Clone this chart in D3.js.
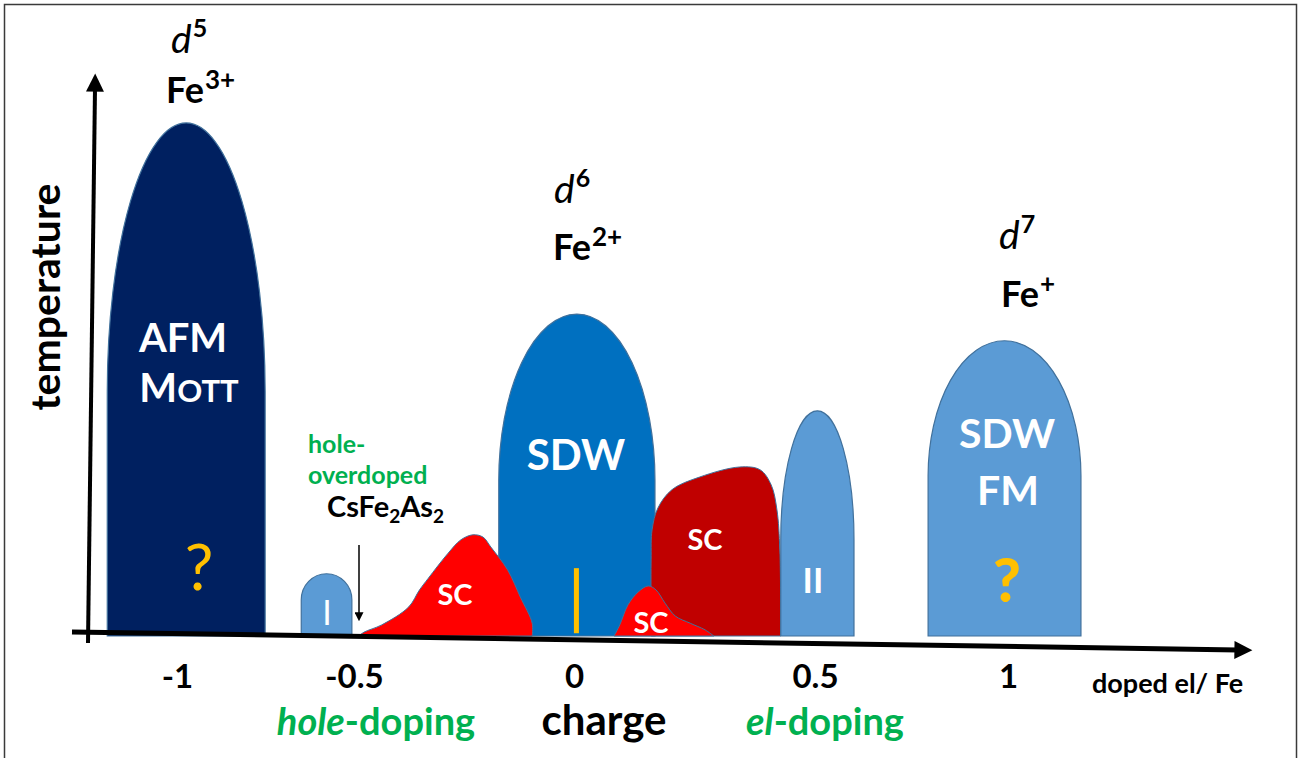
<!DOCTYPE html>
<html><head><meta charset="utf-8">
<script src="https://cdn.jsdelivr.net/npm/d3@7"></script>
<style>
html,body{margin:0;padding:0;background:#fff;}
svg{display:block;font-family:Lato,"Open Sans",sans-serif;}
</style></head>
<body><svg id="c" width="1301" height="758"></svg>
<script>
// ---- data ----
const xTicks = [-1, -0.5, 0, 0.5, 1];
const xTickLabels = ["-1", "-0.5", "0", "0.5", "1"];
// dome-shaped phases: doping range, shoulder temperature, peak temperature
const domeNames    = ["AFM", "I", "SDW", "II", "SDW FM"];
const domeLeft     = [-1.197, -0.649, -0.171, 0.429, 0.793];
const domeRight    = [-0.751, -0.506,  0.168, 0.601, 1.189];
const domeShoulder = [44, 6.5, 28, 17.3, 28.8];
const domePeak     = [92.3, 11.2, 57.9, 40.5, 53.1];
const domeColor    = ["#002060", "#5B9BD5", "#0070C0", "#5B9BD5", "#5B9BD5"];
// superconducting regions: boundary (doping, temperature)
const scHoleDoping = [-0.489,-0.477,-0.437,-0.376,-0.351,-0.331,-0.286,-0.257,-0.230,-0.207,-0.189,-0.151,-0.122,-0.095,-0.095];
const scHoleT      = [0, 0.7, 2.0, 5.2, 8.3, 10.4, 14.9, 17.3, 18.2, 17.8, 16.0, 11.9, 7.0, 2.3, 0];
const scElDoping   = [0.160,0.160,0.162,0.174,0.203,0.261,0.344,0.386,0.409,0.421,0.427,0.429];
const scElT        = [0, 13.7, 19.1, 23.0, 26.3, 28.6, 30.4, 29.9, 27.2, 22.7, 15.5, 0];
const scSmallDoping= [0.083,0.095,0.112,0.133,0.154,0.170,0.189,0.210,0.241,0.272,0.290];
const scSmallT     = [0, 2.0, 5.6, 7.9, 9.0, 8.3, 5.9, 3.6, 2.3, 1.1, 0];
const parentDoping = 0.005; const parentT = [0.5, 12.2];

// ---- scales ----
const svg = d3.select("#c");
const x = d3.scaleLinear().domain([-1, -0.5, 0, 0.5, 1]).range([177, 354, 574, 815, 1008]);
const y = d3.scaleLinear().domain([0, 100]).range([636, 80]);

// frame
svg.append("rect").attr("x", 4.5).attr("y", 4.5).attr("width", 1292).attr("height", 770)
  .attr("fill", "none").attr("stroke", "#3a3a3a").attr("stroke-width", 1.5);

const g = svg.append("g");
const stroke = "#41719C";

function domePath(i) {
  const xl = x(domeLeft[i]), xr = x(domeRight[i]), yb = y(0), ys = y(domeShoulder[i]), yp = y(domePeak[i]);
  const rx = (xr - xl) / 2, ry = ys - yp;
  return `M${xl},${yb}L${xl},${ys}A${rx},${ry} 0 0 1 ${xr},${ys}L${xr},${yb}Z`;
}
const line = d3.line().x(d => x(d[0])).y(d => y(d[1])).curve(d3.curveCatmullRom.alpha(0.5));
function region(ds, ts) { return line(ds.map((d, i) => [d, ts[i]])) + "Z"; }

// draw order: AFM, I, SDW, hole SC, el SC, small SC, II, FM
[0, 1, 2].forEach(i => g.append("path").attr("d", domePath(i)).attr("fill", domeColor[i]).attr("stroke", stroke).attr("stroke-width", 1.2));
g.append("path").attr("d", region(scHoleDoping, scHoleT)).attr("fill", "#FF0000").attr("stroke", stroke).attr("stroke-width", 1);
g.append("path").attr("d", region(scElDoping, scElT)).attr("fill", "#C00000").attr("stroke", stroke).attr("stroke-width", 1);
g.append("path").attr("d", region(scSmallDoping, scSmallT)).attr("fill", "#FF0000").attr("stroke", stroke).attr("stroke-width", 1);
[3, 4].forEach(i => g.append("path").attr("d", domePath(i)).attr("fill", domeColor[i]).attr("stroke", stroke).attr("stroke-width", 1.2));

// parent compound marker
g.append("rect").attr("x", x(parentDoping) - 2.5).attr("y", y(parentT[1])).attr("width", 5)
  .attr("height", y(parentT[0]) - y(parentT[1])).attr("fill", "#FFC000");

// ---- axes arrows ----
const defs = svg.append("defs");
defs.append("marker").attr("id", "ah").attr("viewBox", "0 0 10 10").attr("refX", 2).attr("refY", 5)
  .attr("markerWidth", 20).attr("markerHeight", 18).attr("markerUnits", "userSpaceOnUse").attr("orient", "auto")
  .append("path").attr("d", "M0,0L10,5L0,10Z").attr("fill", "#000");
defs.append("marker").attr("id", "ahs").attr("viewBox", "0 0 10 10").attr("refX", 2).attr("refY", 5)
  .attr("markerWidth", 9).attr("markerHeight", 9).attr("markerUnits", "userSpaceOnUse").attr("orient", "auto")
  .append("path").attr("d", "M0,0L10,5L0,10Z").attr("fill", "#000");

svg.append("line").attr("x1", 88).attr("y1", 643).attr("x2", 95).attr("y2", 88)
  .attr("stroke", "#000").attr("stroke-width", 4).attr("marker-end", "url(#ah)");
svg.append("line").attr("x1", 72).attr("y1", 632).attr("x2", 1238).attr("y2", 650)
  .attr("stroke", "#000").attr("stroke-width", 5).attr("marker-end", "url(#ah)");

// x tick labels via d3 axis
const ax = svg.append("g").attr("transform", "translate(0,688)")
  .call(d3.axisBottom(x).tickValues(xTicks).tickSize(0).tickFormat((d, i) => xTickLabels[i]));
ax.select(".domain").remove();
ax.selectAll("text").attr("y", 0).attr("dy", 0).attr("fill", "#000")
  .style("font-family", "Lato").style("font-weight", "bold").style("font-size", "33px");

// ---- text ----
function txt(xp, yp, s, size, opts = {}) {
  return svg.append("text").attr("x", xp).attr("y", yp).text(s)
    .attr("font-size", size).attr("font-weight", opts.w || "bold")
    .attr("fill", opts.c || "#000").attr("text-anchor", opts.a || "middle")
    .attr("font-style", opts.i ? "italic" : "normal");
}
function supLabel(xp, yp, base, sup, size, supSize, opts = {}) {
  const t = svg.append("text").attr("x", xp).attr("y", yp).attr("text-anchor", "start").attr("fill", "#000");
  t.append("tspan").text(base).attr("font-size", size).attr("font-weight", opts.bw || "bold").attr("font-style", opts.bi ? "italic" : "normal");
  t.append("tspan").text(sup).attr("font-size", supSize).attr("font-weight", "bold").attr("dx", 1).attr("dy", -size * 0.4);
  return t;
}
// ion labels
supLabel(171, 53, "d", "5", 39, 25, {bw: "normal", bi: true});
supLabel(166, 103, "Fe", "3+", 36, 26);
supLabel(554, 203, "d", "6", 39, 25, {bw: "normal", bi: true});
supLabel(553, 260, "Fe", "2+", 36, 26);
supLabel(999, 249, "d", "7", 39, 25, {bw: "normal", bi: true});
supLabel(1001, 307, "Fe", "+", 36, 26);

// y label
svg.append("text").attr("transform", "translate(60,297) rotate(-90)").attr("text-anchor", "middle")
  .attr("font-size", 41).attr("font-weight", "bold").text("temperature");

// phase labels
txt(183, 352, "AFM", 40, {c: "#fff"});
const mott = svg.append("text").attr("x", 189).attr("y", 402).attr("text-anchor", "middle").attr("fill", "#fff").attr("font-weight", "bold");
mott.append("tspan").text("M").attr("font-size", 40);
mott.append("tspan").text("OTT").attr("font-size", 31);
txt(199, 590, "?", 64, {c: "#FFC000", w: "normal"});
txt(327, 625, "I", 34, {c: "#fff", w: "normal"});
txt(455, 605, "SC", 29, {c: "#fff"});
txt(576, 470, "SDW", 42, {c: "#fff"});
txt(705, 550, "SC", 29, {c: "#fff"});
txt(651, 633, "SC", 29, {c: "#fff"});
txt(813, 593, "II", 35, {c: "#fff"});
txt(1007, 448, "SDW", 41, {c: "#fff"});
txt(1008, 505, "FM", 41, {c: "#fff"});
txt(1007, 602, "?", 60, {c: "#FFC000", w: 900});

// CsFe2As2 annotation
txt(308, 453, "hole-", 25, {c: "#00B050", a: "start"});
txt(308, 484, "overdoped", 25, {c: "#00B050", a: "start"});
const cs = svg.append("text").attr("x", 327).attr("y", 517).attr("font-weight", "bold").attr("font-size", 29).attr("fill", "#000");
cs.append("tspan").text("CsFe");
cs.append("tspan").text("2").attr("font-size", 19).attr("dy", 6);
cs.append("tspan").text("As").attr("dy", -6);
cs.append("tspan").text("2").attr("font-size", 19).attr("dy", 6);
svg.append("line").attr("x1", 359).attr("y1", 545).attr("x2", 359).attr("y2", 614)
  .attr("stroke", "#000").attr("stroke-width", 1.5).attr("marker-end", "url(#ahs)");

// axis titles
txt(1092, 693, "doped el/ Fe", 27, {a: "start"});
const hd = svg.append("text").attr("x", 376).attr("y", 735).attr("text-anchor", "middle").attr("fill", "#00B050").attr("font-weight", "bold").attr("font-size", 38);
hd.append("tspan").text("hole").attr("font-style", "italic");
hd.append("tspan").text("-doping");
txt(604, 735, "charge", 42);
const ed = svg.append("text").attr("x", 825).attr("y", 735).attr("text-anchor", "middle").attr("fill", "#00B050").attr("font-weight", "bold").attr("font-size", 38);
ed.append("tspan").text("el").attr("font-style", "italic");
ed.append("tspan").text("-doping");
</script></body></html>
